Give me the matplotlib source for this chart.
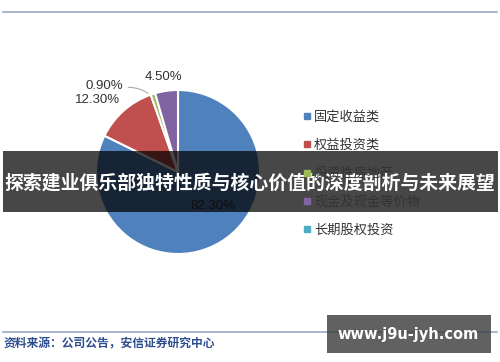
import matplotlib.pyplot as plt
import matplotlib.patches as mpatches
from matplotlib.lines import Line2D

# ── Data ──────────────────────────────────────────────────────────────────────
CATEGORIES = ["固定收益类", "权益投资类", "投资性房地产", "现金及现金等价物", "长期股权投资"]
SHARES     = [82.3, 12.3, 0.9, 4.5, 0.0]
COLORS     = ["#4f81bd", "#c0504d", "#9bbb59", "#8064a2", "#4bacc6"]
TITLE      = "探索建业俱乐部独特性质与核心价值的深度剖析与未来展望"
SOURCE     = "资料来源：公司公告，安信证券研究中心"
WATERMARK  = "www.j9u-jyh.com"

CJK = ["Noto Sans CJK SC", "DejaVu Sans"]
W, H = 500, 362

fig = plt.figure(figsize=(W / 100, H / 100), dpi=100)
fig.patch.set_facecolor("white")

# ── Pie ───────────────────────────────────────────────────────────────────────
cx, cy, r = 178, 172, 82
ax = fig.add_axes([(cx - r) / W, (H - cy - r) / H, 2 * r / W, 2 * r / H])
vals = [v for v in SHARES if v > 0]
cols = [c for v, c in zip(SHARES, COLORS) if v > 0]
wedges, _ = ax.pie(vals, colors=cols, startangle=90, counterclock=False,
                   wedgeprops=dict(edgecolor="white", linewidth=1.5))
ax.set_xlim(-1, 1)
ax.set_ylim(-1, 1)
ax.axis("off")

# label text positions (axes data units, pie radius = 1)
LABEL_POS = [(0.43, -0.42), (-0.98, 0.88), (-0.90, 1.05), (-0.18, 1.16)]
lab_kw = dict(fontsize=9.5, color="#333333", family="Liberation Sans",
              ha="center", va="center")
for v, pos in zip(vals, LABEL_POS):
    ax.text(pos[0], pos[1], f"{v:.2f}%", **lab_kw)
# leader line for the tiny slice
ax.annotate("", xy=(-0.34, 0.94), xytext=(-0.64, 1.03),
            arrowprops=dict(arrowstyle="-", color="#aaaaaa", lw=0.8,
                            connectionstyle="arc3,rad=-0.2"))

# ── Legend ────────────────────────────────────────────────────────────────────
handles = [Line2D([], [], marker="s", ls="none", markersize=4,
                  markerfacecolor=c, markeredgecolor=c) for c in COLORS]
fig.legend(handles, CATEGORIES, loc="upper left",
           bbox_to_anchor=(289 / W, 1 - 99 / H), frameon=False,
           prop=dict(family=CJK, size=9.5), labelcolor="#333333",
           handletextpad=0.0, handlelength=1.0, labelspacing=1.15)

# overlay axes in pixel coordinates (y down), drawn on top
bg = fig.add_axes([0, 0, 1, 1])
bg.set_xlim(0, W)
bg.set_ylim(H, 0)
bg.axis("off")
bg.patch.set_alpha(0)

# ── Frame lines and source ───────────────────────────────────────────────────
bg.plot([3, 497], [12, 12], color="#9aaac4", lw=1.2)
bg.plot([3, 497], [332, 332], color="#9aaac4", lw=1.2)
bg.text(4, 344, SOURCE, fontsize=8.5, color="#2e4d8f", weight="bold",
        family=CJK, ha="left", va="center")

# ── Overlays ──────────────────────────────────────────────────────────────────
bg.add_patch(mpatches.Rectangle((3, 151), 495, 61, facecolor="black",
                                alpha=0.72, zorder=5))
bg.text(250, 183, TITLE, fontsize=13.6, color="white", weight="bold",
        family=CJK, ha="center", va="center", zorder=6)
bg.add_patch(mpatches.Rectangle((327, 315), 164, 38, facecolor="#3a3a3a",
                                alpha=0.8, zorder=5))
bg.text(408, 335, WATERMARK, fontsize=10.5, color="white", weight="bold",
        family="DejaVu Sans", ha="center", va="center", zorder=6)

fig.savefig("out.png", dpi=100)
